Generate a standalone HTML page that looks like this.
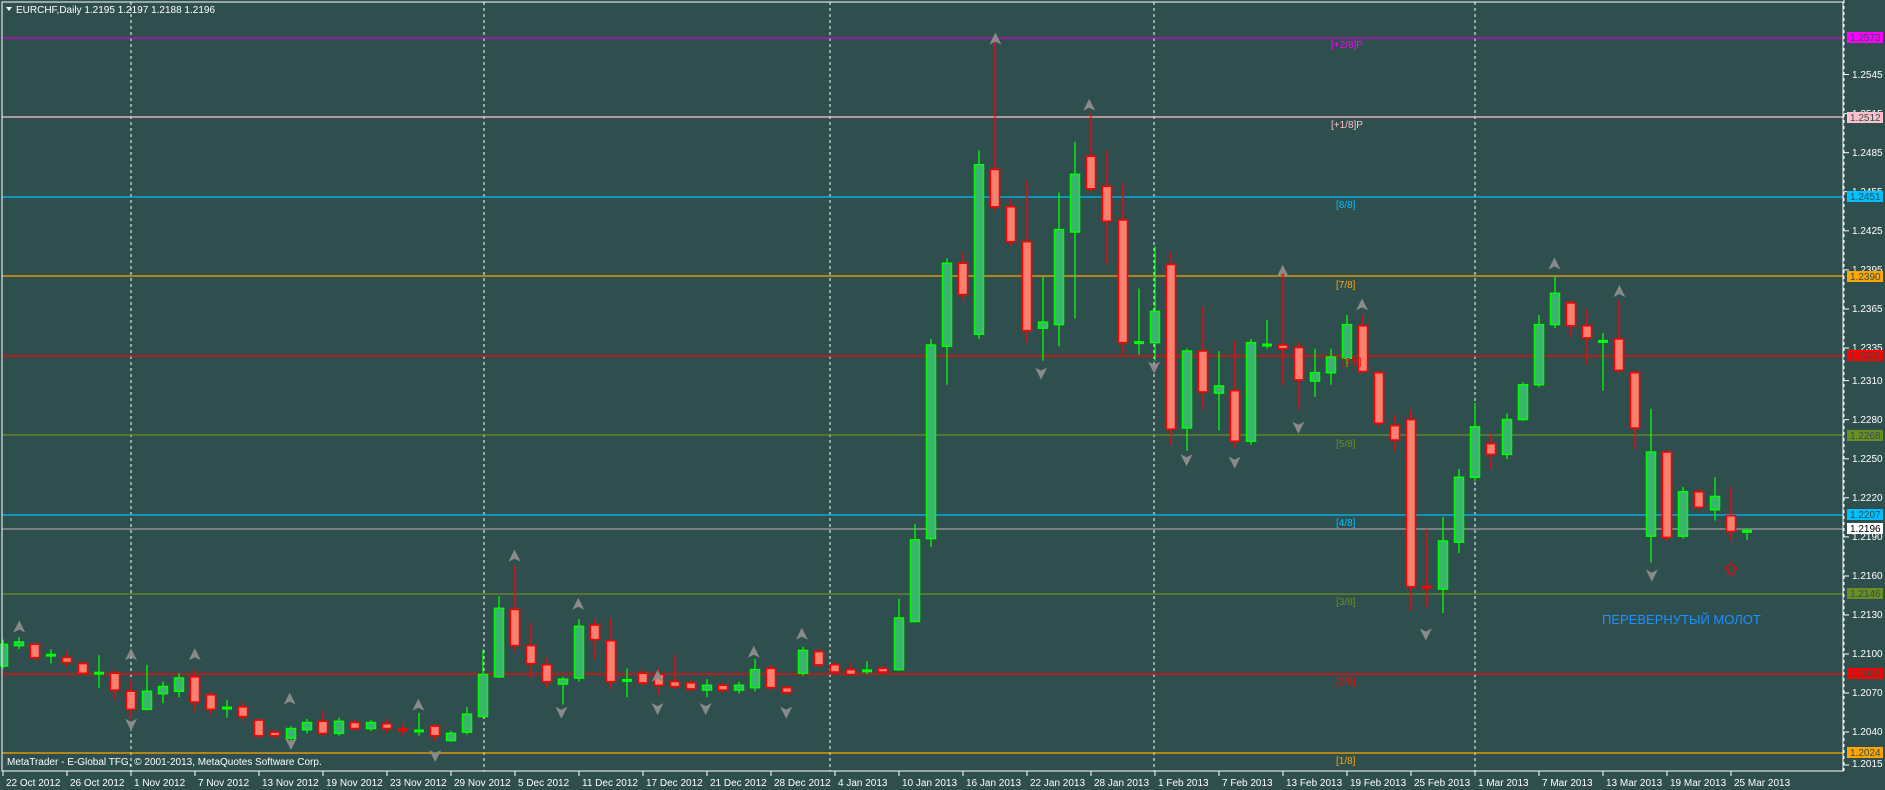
<!DOCTYPE html>
<html><head><meta charset="utf-8">
<style>
html,body{margin:0;padding:0;background:#2f4f4f;overflow:hidden}
svg{display:block}
text{font-family:"Liberation Sans",sans-serif}
</style></head>
<body>
<svg id="s" width="1885" height="790" xmlns="http://www.w3.org/2000/svg">
<rect width="1885" height="790" fill="#2f4f4f"/>
<g id="grid"></g>
<g id="levels"></g>
<g id="candles"></g>
<g id="arrows"></g>
<rect x="2" y="2" width="1841" height="769" fill="none" stroke="#fff" stroke-width="1"/>
<line x1="1844" y1="0" x2="1844" y2="771" stroke="#fff" stroke-dasharray="3,3"/>
<g id="axis" fill="#fff" font-size="11"></g>
<g id="lvlabels" font-size="10"></g>
<polygon points="6,7 12,7 9,11" fill="#fff"/>
<text x="16" y="13" font-size="10" fill="#fff">EURCHF,Daily  1.2195 1.2197 1.2188 1.2196</text>
<text x="7" y="765" font-size="10" fill="#fff">MetaTrader - E-Global TFG, © 2001-2013, MetaQuotes Software Corp.</text>
<text x="1602" y="624" font-size="13" fill="#1e90ff">ПЕРЕВЕРНУТЫЙ МОЛОТ</text>
<g id="dates" fill="#fff" font-size="10">
<text x="6" y="786">22 Oct 2012</text><text x="70" y="786">26 Oct 2012</text><text x="134" y="786">1 Nov 2012</text><text x="198" y="786">7 Nov 2012</text><text x="262" y="786">13 Nov 2012</text><text x="326" y="786">19 Nov 2012</text><text x="390" y="786">23 Nov 2012</text><text x="454" y="786">29 Nov 2012</text><text x="518" y="786">5 Dec 2012</text><text x="582" y="786">11 Dec 2012</text><text x="646" y="786">17 Dec 2012</text><text x="710" y="786">21 Dec 2012</text><text x="774" y="786">28 Dec 2012</text><text x="838" y="786">4 Jan 2013</text><text x="902" y="786">10 Jan 2013</text><text x="966" y="786">16 Jan 2013</text><text x="1030" y="786">22 Jan 2013</text><text x="1094" y="786">28 Jan 2013</text><text x="1158" y="786">1 Feb 2013</text><text x="1222" y="786">7 Feb 2013</text><text x="1286" y="786">13 Feb 2013</text><text x="1350" y="786">19 Feb 2013</text><text x="1414" y="786">25 Feb 2013</text><text x="1478" y="786">1 Mar 2013</text><text x="1542" y="786">7 Mar 2013</text><text x="1606" y="786">13 Mar 2013</text><text x="1670" y="786">19 Mar 2013</text><text x="1734" y="786">25 Mar 2013</text>
</g>
<g id="axtext" fill="#fff" font-size="10">
<text x="1852" y="78">1.2545</text><text x="1852" y="117">1.2515</text><text x="1852" y="156">1.2485</text><text x="1852" y="195">1.2455</text><text x="1852" y="234">1.2425</text><text x="1852" y="273">1.2395</text><text x="1852" y="312">1.2365</text><text x="1852" y="351">1.2335</text><text x="1852" y="384">1.2310</text><text x="1852" y="423">1.2280</text><text x="1852" y="462">1.2250</text><text x="1852" y="501">1.2220</text><text x="1852" y="540">1.2190</text><text x="1852" y="579">1.2160</text><text x="1852" y="618">1.2130</text><text x="1852" y="657">1.2100</text><text x="1852" y="696">1.2070</text><text x="1852" y="735">1.2040</text><text x="1852" y="767">1.2015</text>
</g>
<g id="boxes" font-size="10">
<rect x="1847" y="32" width="36" height="11" fill="#ff00ff"/><text x="1850" y="41" fill="#2f4f4f">1.2573</text>
<rect x="1847" y="112" width="36" height="11" fill="#ffc0cb"/><text x="1850" y="121" fill="#2f4f4f">1.2512</text>
<rect x="1847" y="191" width="36" height="11" fill="#00bfff"/><text x="1850" y="200" fill="#2f4f4f">1.2451</text>
<rect x="1847" y="271" width="36" height="11" fill="#ffa500"/><text x="1850" y="280" fill="#2f4f4f">1.2390</text>
<rect x="1847" y="350" width="36" height="11" fill="#ff0000"/><text x="1850" y="359" fill="#2f4f4f">1.2329</text>
<rect x="1847" y="430" width="36" height="11" fill="#6b8e23"/><text x="1850" y="439" fill="#2f4f4f">1.2268</text>
<rect x="1847" y="509" width="36" height="11" fill="#00bfff"/><text x="1850" y="518" fill="#2f4f4f">1.2207</text>
<rect x="1847" y="523" width="36" height="11" fill="#fff"/><text x="1850" y="532" fill="#000">1.2196</text>
<rect x="1847" y="588" width="36" height="11" fill="#6b8e23"/><text x="1850" y="597" fill="#2f4f4f">1.2146</text>
<rect x="1847" y="668" width="36" height="11" fill="#ff0000"/><text x="1850" y="677" fill="#2f4f4f">1.2085</text>
<rect x="1847" y="747" width="36" height="11" fill="#ffa500"/><text x="1850" y="756" fill="#2f4f4f">1.2024</text>
</g>
<g font-size="10">
<text x="1331" y="48" fill="#ff00ff">[+2/8]P</text>
<text x="1331" y="128" fill="#ffc0cb">[+1/8]P</text>
<text x="1336" y="208" fill="#00bfff">[8/8]</text>
<text x="1336" y="288" fill="#ffa500">[7/8]</text>
<text x="1342" y="365" fill="#ff0000">[6/8]</text>
<text x="1336" y="447" fill="#6b8e23">[5/8]</text>
<text x="1336" y="526" fill="#00bfff">[4/8]</text>
<text x="1336" y="605" fill="#6b8e23">[3/8]</text>
<text x="1336" y="685" fill="#ff0000">[2/8]</text>
<text x="1336" y="764" fill="#ffa500">[1/8]</text>
</g>
</svg>
<script>
var NS="http://www.w3.org/2000/svg";
function el(p,t,a){var e=document.createElementNS(NS,t);for(var k in a)e.setAttribute(k,a[k]);document.getElementById(p).appendChild(e);return e;}
// dashed separators
[131,484,830,1154,1475].forEach(function(x){el("grid","line",{x1:x,y1:2,x2:x,y2:771,stroke:"#fff","stroke-dasharray":"3,3"});});
// ticks
for(var i=0;i<=108;i+=4){var x=3+16*i;el("axis","line",{x1:x,y1:771,x2:x,y2:776,stroke:"#fff"});}
[74.5,113.6,152.7,191.7,230.8,269.9,309,348,380.6,419.7,458.8,497.8,536.9,576,615,654,693,732,765].forEach(function(y){el("axis","line",{x1:1844,y1:y,x2:1849,y2:y,stroke:"#fff"});});
// levels
[[38,"#cc00cc"],[117,"#ffc0cb"],[197,"#00bfff"],[276,"#ffa500"],[356,"#ff0000"],[435,"#6b8e23"],[515,"#00bfff"],[529,"#a0a0a0"],[594,"#6b8e23"],[674,"#ff0000"],[753,"#ffa500"]].forEach(function(l){el("levels","line",{x1:2,y1:l[0],x2:1844,y2:l[0],stroke:l[1],"stroke-width":1.3});});
// candles: [open,close,high,low] in displayed coords (y)
var C=[[554,536,532,556],[537,534,530,540],[536,547,535,549],[545,545,540,552],[547,551,542,555],[552,560,550,561],[560,560,545,572],[560,574,557,582],[575,590,565,598],[590,575,553,591],
[577,571,567,585],[575,564,560,580],[563,584,557,592],[578,590,575,595],[589,589,582,597],[588,596,584,600],[599,612,598,614],[609,612,607,614],[614,606,604,616],[607,601,598,610],
[600,610,591,612],[610,600,597,612],[601,606,599,608],[606,601,599,608],[602,606,598,610],[606,608,602,612],[608,608,593,612],[604,612,602,617],[616,610,608,617],[609,594,588,611],
[596,561,540,597],[563,506,496,564],[507,537,470,542],[537,552,518,564],[553,567,547,572],[569,565,563,586],[564,521,515,567],[520,532,515,548],[533,567,514,573],[567,565,556,580],
[560,568,557,570],[561,570,556,578],[567,571,545,573],[568,573,566,575],[574,570,565,580],[570,574,568,576],[574,570,567,577],[572,557,548,575],[556,572,553,574],[572,576,570,578],
[560,541,538,562],[542,553,540,555],[553,559,550,560],[557,561,551,562],[559,557,550,561],[556,559,554,560],[557,514,498,558],[517,449,436,517],[448,287,282,455],[288,219,215,320],
[219,245,210,250],[278,137,125,282],[141,172,35,175],[172,201,165,205],[201,275,150,285],[273,268,230,300],[270,191,160,288],[193,145,118,265],[130,157,94,160],[155,184,125,220],
[183,285,152,295],[286,284,240,295],[285,259,205,300],[220,357,210,370],[356,292,290,375],[292,326,255,340],[327,321,292,358],[325,367,283,372],[367,285,282,370],[287,287,266,290],
[287,290,225,320],[289,316,284,340],[317,310,290,330],[310,297,290,320],[298,270,262,305],[271,309,262,310],[310,352,308,355],[354,366,345,375],[349,488,340,508],[488,489,440,505],
[490,450,430,510],[451,397,390,460],[397,355,335,400],[369,378,360,390],[378,349,344,382],[349,320,318,350],[320,270,262,322],[270,244,230,273],[252,271,250,280],[271,281,257,303],
[285,283,277,325],[282,308,250,310],[310,356,308,373],[446,376,340,468],[376,447,375,450],[446,409,405,448],[409,422,407,424],[424,413,397,433],[429,442,405,450],[443,441,439,449]];
var k=1.2022;
C.forEach(function(c,i){var x=3+16*i,o=c[0]*k,cl=c[1]*k,h=c[2]*k,l=c[3]*k;var bull=cl<=o;var sc=bull?"#00ff00":"#ff0000",fc=bull?"#3cb371":"#fa8072";
el("candles","line",{x1:x,y1:h,x2:x,y2:l,stroke:sc,"stroke-width":1.3});
var t=Math.min(o,cl),b=Math.max(o,cl);
if(b-t<3){el("candles","rect",{x:x-5,y:(t+b)/2-1.5,width:10,height:3,fill:sc});}
else el("candles","rect",{x:x-4.5,y:t,width:9,height:b-t,fill:fc,stroke:sc,"stroke-width":1.5});});
// fractal arrows
function up(x,y){el("arrows","polygon",{points:(x)+","+(y-7)+" "+(x+6)+","+(y+5)+" "+x+","+(y+2)+" "+(x-6)+","+(y+5),fill:"#8a8a8a"});}
function dn(x,y){el("arrows","polygon",{points:(x)+","+(y+7)+" "+(x+6)+","+(y-5)+" "+x+","+(y-2)+" "+(x-6)+","+(y-5),fill:"#8a8a8a"});}
[[16,522],[109,545],[162,545],[241,582],[348,587],[428,463],[481,503],[547,563],[627,543],[667,528],[828,33],[906,88],[1067,226],[1133,254],[1293,220],[1347,243]].forEach(function(p){up(p[0]*k,p[1]*k);});
[[109,602],[242,618],[362,628],[467,592],[547,589],[587,589],[654,592],[866,310],[960,305],[987,382],[1027,384],[1080,355],[1186,527],[1374,478]].forEach(function(p){dn(p[0]*k,p[1]*k);});
el("arrows","polygon",{points:"1731,563 1737,569 1734,569 1734,574 1728,574 1728,569 1725,569",fill:"none",stroke:"#ff0000","stroke-width":1});
</script>
</body></html>
